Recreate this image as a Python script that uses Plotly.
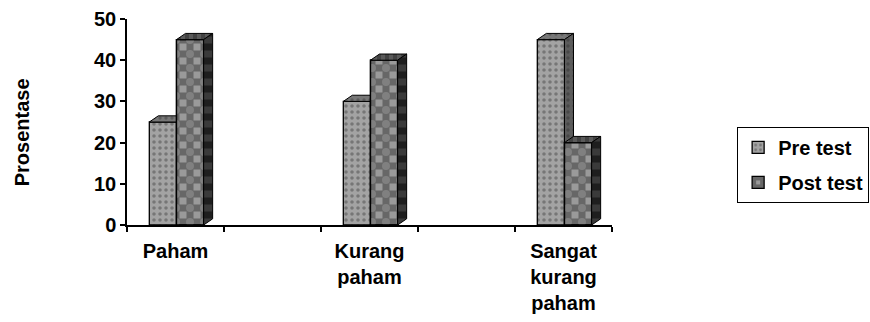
import plotly.graph_objects as go

# ---- data -------------------------------------------------------------
categories = ["Paham", "Kurang<br>paham", "Sangat<br>kurang<br>paham"]
pre_test = [25, 30, 45]
post_test = [45, 40, 20]
y_ticks = [0, 10, 20, 30, 40, 50]
series_names = ["Pre test", "Post test"]
y_title = "Prosentase"

# Five category slots on the x axis; data sits in every other slot,
# the empty slots in between give the wide gaps between groups.
n_slots = 5
slot_pos = [0, 2, 4]
boundaries = [i - 0.5 for i in range(n_slots + 1)]

# ---- bar geometry (axis units) ---------------------------------------
BAR_W = 0.28
PRE_OFF = -0.27
POST_OFF = PRE_OFF + BAR_W
DEPTH_X = 0.093   # horizontal depth of the 3-D extrusion
DEPTH_Y = 1.5     # vertical depth of the 3-D extrusion

FONT = "Liberation Sans"


def bold(s):
    return "<b>" + s.replace("<br>", "</b><br><b>") + "</b>"


def faces(xs, offset, vals):
    """Top and right-side polygons of extruded bars, from the bar values."""
    tx, ty, sx, sy = [], [], [], []
    for x, v in zip(xs, vals):
        x0 = x + offset
        x1 = x0 + BAR_W
        tx += [x0, x1, x1 + DEPTH_X, x0 + DEPTH_X, x0, None]
        ty += [v, v, v + DEPTH_Y, v + DEPTH_Y, v, None]
        sx += [x1, x1 + DEPTH_X, x1 + DEPTH_X, x1, x1, None]
        sy += [0, DEPTH_Y, v + DEPTH_Y, v, 0, None]
    return tx, ty, sx, sy


def face_trace(xv, yv, fill, pattern, xa, ya):
    return go.Scatter(
        x=xv, y=yv, mode="lines", fill="toself",
        fillcolor=fill, fillpattern=pattern,
        line=dict(color="black", width=1),
        xaxis=xa, yaxis=ya, hoverinfo="skip", showlegend=False,
    )


fig = go.Figure()

# ---- Pre test (lower layer) -------------------------------------------
fig.add_trace(go.Bar(
    name=bold(series_names[0]), x=slot_pos, y=pre_test,
    width=BAR_W, offset=PRE_OFF, legendgroup="pre",
    marker=dict(
        color="#9a9a9a",
        line=dict(color="black", width=1.3),
        pattern=dict(shape=".", fgcolor="#4a4a4a", bgcolor="#a3a3a3",
                     size=6, solidity=0.28),
    ),
    xaxis="x", yaxis="y",
))
ptx, pty, psx, psy = faces(slot_pos, PRE_OFF, pre_test)
fig.add_trace(face_trace(ptx, pty, "#707070",
                         dict(shape=".", fgcolor="#404040", bgcolor="#777777",
                              size=6, solidity=0.25), "x", "y"))
fig.add_trace(face_trace(psx, psy, "#555555",
                         dict(shape=".", fgcolor="#333333", bgcolor="#5c5c5c",
                              size=6, solidity=0.25), "x", "y"))

# ---- Post test (upper layer, checkerboard) ----------------------------
fig.add_trace(go.Bar(
    name=bold(series_names[1]), x=slot_pos, y=post_test,
    width=BAR_W, offset=POST_OFF, legendgroup="post",
    marker=dict(
        color="#9a9a9a",
        line=dict(color="black", width=1.3),
        pattern=dict(shape="+", fgcolor="#333333", bgcolor="#9a9a9a",
                     size=14, solidity=0.75),
    ),
    xaxis="x2", yaxis="y2",
))
fig.add_trace(go.Bar(
    x=slot_pos, y=post_test, width=BAR_W, offset=POST_OFF,
    legendgroup="post", showlegend=False, hoverinfo="skip",
    marker=dict(
        color="rgba(0,0,0,0)",
        line=dict(color="black", width=1.3),
        pattern=dict(shape=".", fgcolor="#9a9a9a", bgcolor="rgba(0,0,0,0)",
                     size=14, solidity=0.25),
    ),
    xaxis="x2", yaxis="y2",
))
qtx, qty, qsx, qsy = faces(slot_pos, POST_OFF, post_test)
fig.add_trace(face_trace(qtx, qty, "#4a4a4a",
                         dict(shape="|", fgcolor="#2a2a2a", bgcolor="#5a5a5a",
                              size=8, solidity=0.5), "x2", "y2"))
fig.add_trace(face_trace(qsx, qsy, "#333333",
                         dict(shape="-", fgcolor="#555555", bgcolor="#1e1e1e",
                              size=14, solidity=0.5), "x2", "y2"))

# ---- layout ------------------------------------------------------------
x_range = [boundaries[0], boundaries[-1]]
y_range = [y_ticks[0], y_ticks[-1]]

fig.update_layout(
    width=870, height=322,
    margin=dict(l=127, r=258, t=19, b=97, autoexpand=False),
    paper_bgcolor="white", plot_bgcolor="white",
    barmode="overlay",
    font=dict(family=FONT, color="black"),
    xaxis=dict(
        range=x_range, tickmode="array", tickvals=slot_pos,
        ticktext=[bold(c) for c in categories],
        ticks="", showline=True, linecolor="black", linewidth=1.5,
        showgrid=False, zeroline=False, ticklabelstandoff=7, automargin=False,
        tickfont=dict(family=FONT, size=20, color="black"),
        minor=dict(tickmode="array", tickvals=boundaries, ticks="outside",
                   ticklen=5, tickwidth=1.5, tickcolor="black", showgrid=False),
    ),
    yaxis=dict(
        range=y_range, tickmode="array", tickvals=y_ticks,
        ticktext=[bold(str(t)) for t in y_ticks],
        ticks="outside", ticklen=5, tickwidth=1.5, tickcolor="black",
        showline=True, linecolor="black", linewidth=1.5,
        showgrid=False, zeroline=False, automargin=False,
        tickfont=dict(family=FONT, size=20, color="black"),
    ),
    xaxis2=dict(range=x_range, overlaying="x", visible=False),
    yaxis2=dict(range=y_range, overlaying="y", visible=False),
    legend=dict(
        x=1.258, y=0.476, xanchor="left", yanchor="top",
        bgcolor="white", bordercolor="black", borderwidth=1,
        font=dict(family=FONT, size=20, color="black"),
        traceorder="grouped", tracegroupgap=6,
    ),
    annotations=[dict(
        text=bold(y_title), xref="paper", yref="paper",
        x=-0.2165, y=0.45, xanchor="center", yanchor="middle",
        textangle=-90, showarrow=False,
        font=dict(family=FONT, size=20, color="black"),
    )],
)

fig.write_html("out.html")
